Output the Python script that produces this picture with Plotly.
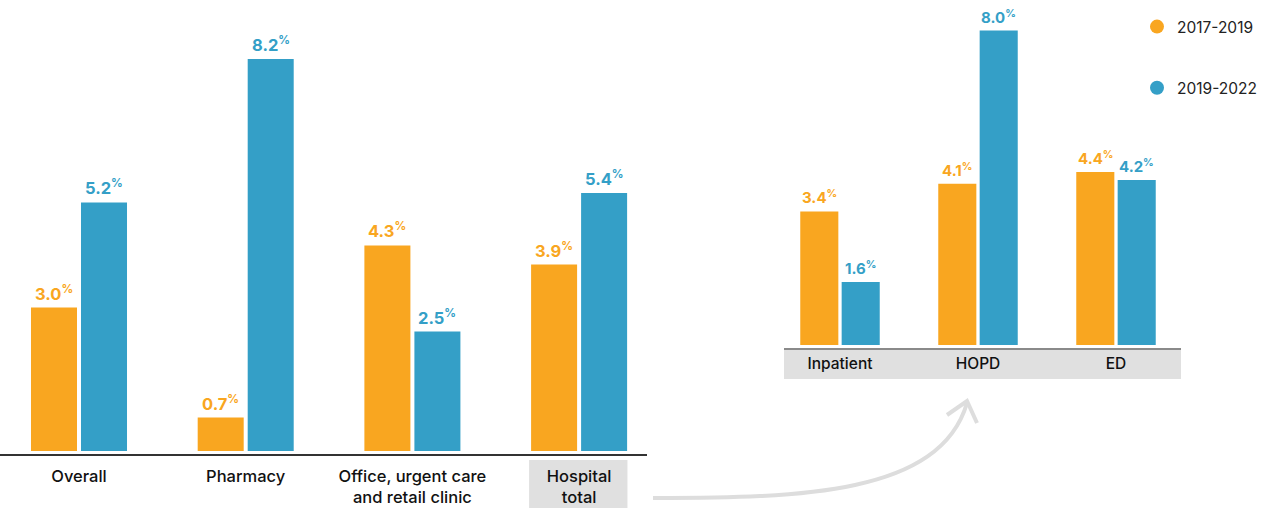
import plotly.graph_objects as go

W, H = 1265, 508

# Growth rates by site of care (left panel) and hospital breakdown (right panel)
main_categories = ["Overall", "Pharmacy", "Office, urgent care<br>and retail clinic", "Hospital<br>total"]
main_2017_2019 = [3.0, 0.7, 4.3, 3.9]
main_2019_2022 = [5.2, 8.2, 2.5, 5.4]

hospital_categories = ["Inpatient", "HOPD", "ED"]
hospital_2017_2019 = [3.4, 4.1, 4.4]
hospital_2019_2022 = [1.6, 8.0, 4.2]

series_names = ["2017-2019", "2019-2022"]
ORANGE = "#F9A620"
BLUE = "#349FC7"
FONT = "Inter"
BARGAP = 0.4


def px_x(p):
    return p / W


def px_y(p):
    return 1 - p / H


fig = go.Figure()

panels = [
    ("x", "y", main_categories, [main_2017_2019, main_2019_2022], 16.5),
    ("x2", "y2", hospital_categories, [hospital_2017_2019, hospital_2019_2022], 15),
]

annotations = []
for xa, ya, cats, series, fs in panels:
    idx = list(range(len(cats)))
    for k, (vals, color) in enumerate(zip(series, [ORANGE, BLUE])):
        fig.add_trace(go.Bar(
            x=idx, y=vals, name=series_names[k], marker_color=color,
            marker_line_width=0, xaxis=xa, yaxis=ya, showlegend=False,
            cliponaxis=False, hoverinfo="skip",
        ))
        offset = (-1 if k == 0 else 1) * (1 - BARGAP) / 4
        for i, v in zip(idx, vals):
            annotations.append(dict(
                x=i + offset, y=v, xref=xa, yref=ya,
                text=f"<b>{v:.1f}<sup>%</sup></b>",
                showarrow=False, yanchor="bottom", yshift=2,
                font=dict(family=FONT, size=fs, color=color, weight=800),
            ))

# Legend entries drawn as round markers
for name, color in zip(series_names, [ORANGE, BLUE]):
    fig.add_trace(go.Scatter(
        x=[None], y=[None], mode="markers", name=name, legendgroup=name,
        marker=dict(symbol="circle", size=14, color=color),
        xaxis="x2", yaxis="y2",
    ))

left_scale = 47.8   # px per percentage point
right_scale = 39.3
left_base, right_base = 454, 348

shapes = [
    # highlight box behind "Hospital total"
    dict(type="rect", xref="x", yref="paper", x0=2.7, x1=3.29,
         y0=0, y1=px_y(460), fillcolor="#E0E0E0", line_width=0, layer="below"),
    # band behind hospital sub-categories
    dict(type="rect", xref="x2 domain", yref="paper", x0=0, x1=1,
         y0=px_y(379), y1=px_y(349), fillcolor="#E0E0E0", line_width=0, layer="below"),
    # curved connector arrow
    dict(type="path", xref="paper", yref="paper",
         path=(f"M {px_x(653)},{px_y(498)} C {px_x(800)},{px_y(498)} "
               f"{px_x(940)},{px_y(495)} {px_x(967)},{px_y(403)}"),
         line=dict(color="#DDDDDD", width=4)),
    dict(type="path", xref="paper", yref="paper",
         path=(f"M {px_x(947)},{px_y(415)} L {px_x(967)},{px_y(401)} "
               f"L {px_x(977)},{px_y(423)}"),
         line=dict(color="#DDDDDD", width=4)),
]

fig.update_layout(
    width=W, height=H,
    margin=dict(l=0, r=0, t=0, b=0),
    paper_bgcolor="white", plot_bgcolor="white",
    barmode="group", bargap=BARGAP, bargroupgap=0.08,
    font=dict(family=FONT, color="#111111"),
    xaxis=dict(
        domain=[0, px_x(647)], range=[-79 / 166.7, (647 - 79) / 166.7],
        tickmode="array", tickvals=list(range(len(main_categories))),
        ticktext=main_categories, ticks="", showgrid=False, zeroline=False,
        showline=True, linecolor="#333333", linewidth=1.5,
        tickfont=dict(size=16.5, family=FONT, color="#111111", weight=500),
        ticklabelstandoff=6, fixedrange=True,
    ),
    yaxis=dict(
        domain=[px_y(left_base), 1],
        range=[-3 / left_scale, -3 / left_scale + left_base / left_scale],
        visible=False, fixedrange=True,
    ),
    xaxis2=dict(
        domain=[px_x(784), px_x(1181)], anchor="y2",
        range=[-(840 - 784) / 138, (1181 - 840) / 138],
        tickmode="array", tickvals=list(range(len(hospital_categories))),
        ticktext=hospital_categories, ticks="", showgrid=False, zeroline=False,
        showline=True, linecolor="#8A8A8A", linewidth=1.5,
        tickfont=dict(size=15.5, family=FONT, color="#111111", weight=500),
        ticklabelstandoff=1, fixedrange=True,
    ),
    yaxis2=dict(
        domain=[px_y(right_base), 1], anchor="x2",
        range=[-3 / right_scale, -3 / right_scale + right_base / right_scale],
        visible=False, fixedrange=True,
    ),
    legend=dict(
        x=px_x(1137), y=px_y(10), xanchor="left", yanchor="top",
        font=dict(size=15.5, family=FONT, color="#222222"),
        tracegroupgap=38, itemwidth=30, bgcolor="rgba(0,0,0,0)",
    ),
    showlegend=True,
    shapes=shapes,
    annotations=annotations,
)

fig.write_html("out.html")
